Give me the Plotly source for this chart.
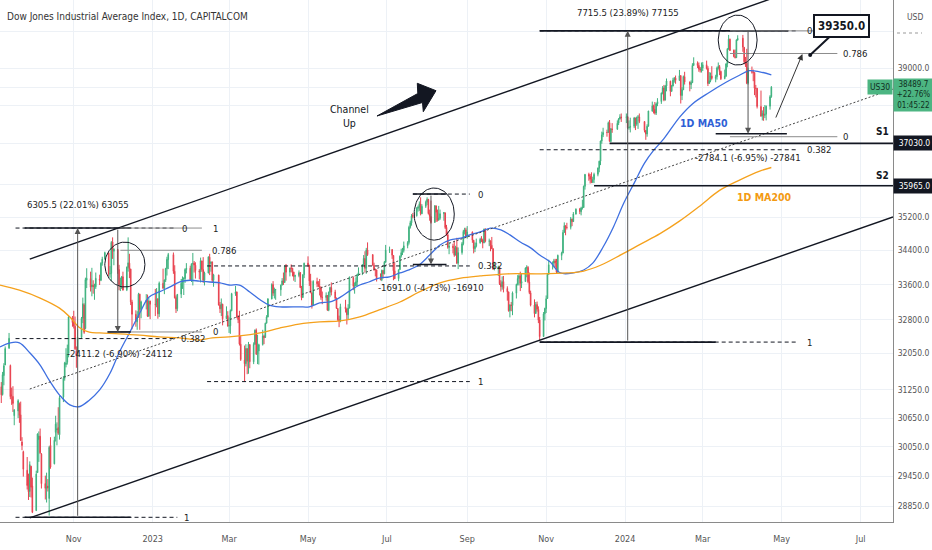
import numpy as np
import pandas as pd
import plotly.graph_objects as go

FONT = "Liberation Sans Narrow, DejaVu Sans Condensed, Arial Narrow, Liberation Sans, sans-serif"

# ---- daily candles, US30 (CAPITALCOM), Sep 2022 -> Apr 2024 ----
holidays = ["2022-09-05", "2022-11-24", "2022-12-26", "2023-01-02", "2023-01-16", "2023-02-20",
            "2023-04-07", "2023-05-29", "2023-06-19", "2023-07-04", "2023-09-04", "2023-11-23",
            "2023-12-25", "2024-01-01", "2024-01-15", "2024-02-19", "2024-03-29"]
trade_days = [d for d in pd.bdate_range("2022-09-01", "2024-04-23") if d.strftime("%Y-%m-%d") not in holidays]

opens = [
    31510, 31700, 31320, 31150, 31560, 31790, 32160, 31780, 31140, 31110, 30700, 30800, 30950, 30720, 30150, 29950, 29570, 29290, 29140, 29650, 29250,
    28760, 29520, 30200, 30270, 29900, 29300, 29200, 29250, 29000, 30080, 29700, 30350, 30400, 30450, 30300, 31100, 31500, 31800, 31850, 32050, 32840,
    32750, 32650, 32100, 32050, 32400, 32830, 33130, 32600, 33700, 33740, 33550, 33580, 33540, 33550, 33730, 33700, 34100, 34200, 34340, 33850, 33860,
    34600, 34380, 34420, 33950, 33590, 33600, 33780, 33480, 34000, 34100, 33960, 33200, 32920, 32750, 32850, 33380, 33030, 33200, 33240, 32880, 33220,
    33150, 33140, 33270, 32930, 33630, 33520, 33700, 33970, 34180, 34300, 33910, 33300, 33050, 33380, 33630, 33730, 33740, 33950, 33980, 33720,
    34090, 34100, 34050, 33920, 33890, 34150, 33950, 33700, 33870, 34240, 34090, 34130, 33700, 33820, 33130, 33050, 33150, 32820, 32890,
    32660, 32660, 33000, 33390, 33430, 32860, 32800, 32250, 31900, 31820, 32150, 31870, 32240, 31860, 32250, 32560, 32030, 32100, 32240, 32430, 32400, 32720, 32860,
    33270, 33600, 33400, 33480, 33480, 33590, 33690, 33650, 34030, 33890, 33990, 33980, 33890, 33790, 33810, 33880, 33530, 33300, 33830,
    34100, 34050, 33690, 33410, 33130, 33670, 33620, 33560, 33530, 33310, 33300, 33350, 33010, 33420, 33530, 33430, 33290, 33050, 32800, 32770, 33090, 33040,
    32910, 33060, 33760, 33560, 33570, 33660, 33830, 33880, 34070, 34210, 33980, 34410, 34300, 34050, 33950, 33940, 33730, 33710, 33930, 33850, 34120,
    34410, 34420, 34280, 33920, 33740, 33950, 34270, 34350, 34400, 34510, 34590, 34950, 35060, 35230, 35230, 35410, 35440, 35520, 35280, 35460,
    35560, 35630, 35280, 35210, 35070, 35470, 35310, 35120, 35170, 35280, 35300, 34950, 34770, 34470, 34500, 34460, 34290, 34470, 34100, 34350, 34560, 34850, 34890,
    34720, 34840, 34640, 34440, 34500, 34580, 34660, 34650, 34580, 34900, 34620, 34620, 34520, 34440, 33960, 33960, 34000, 33620, 33550, 33670,
    33510, 33430, 33000, 33130, 33120, 33400, 33600, 33740, 33800, 33630, 33670, 33980, 34000, 33660, 33410, 33130, 32940, 33140, 33030, 32790, 32420, 32930,
    33050, 33280, 33840, 34060, 34100, 34150, 34110, 33890, 34280, 34340, 34830, 34990, 34950, 34950, 35150, 35090, 35270, 35390, 35330, 35420, 35430,
    35950, 36250, 36200, 36120, 36050, 36120, 36250, 36400, 36580, 37090, 37250, 37310, 37310, 37560, 37080, 37400, 37390, 37550, 37660, 37710,
    37690, 37710, 37430, 37440, 37470, 37680, 37520, 37700, 37710, 37590, 37360, 37270, 37470, 37860, 38000, 37910, 37810, 38050, 38110, 38330, 38470,
    38150, 38520, 38650, 38380, 38520, 38680, 38730, 38670, 38800, 38270, 38420, 38770, 38630, 38560, 38610, 39070, 39130, 39070, 38970, 38950,
    39000, 39090, 38990, 38590, 38660, 38790, 38720, 38770, 39000, 39040, 38910, 38720, 38790, 39110, 39510, 39780, 39480, 39310, 39280, 39760,
    39810, 39560, 39170, 39130, 38600, 38900, 38890, 38880, 38460, 38460, 37980, 37740, 37800, 37750, 37780, 37990, 38240,
]
highs = [
    31680, 31900, 31420, 31640, 31830, 32200, 32500, 31800, 31300, 31330, 30840, 31050, 30980, 31000, 30250, 29970, 29840, 29500, 29750, 29660, 29420,
    29560, 30330, 30370, 30430, 29920, 29460, 29520, 29390, 30070, 30250, 30260, 30700, 30560, 30880, 31120, 31550, 31860, 32160, 32240, 32880, 32880,
    33000, 32870, 32200, 32580, 32860, 33300, 33170, 33760, 33980, 33900, 33990, 33700, 33620, 33880, 33830, 34120, 34250, 34370, 34350, 34030, 34620,
    34710, 34450, 34430, 34060, 33760, 33800, 33900, 34020, 34710, 34320, 33970, 33250, 33010, 32990, 33410, 33390, 33230, 33380, 33370, 33290, 33230,
    33500, 33520, 33290, 33670, 33970, 33720, 33990, 34250, 34340, 34350, 34050, 33350, 33380, 33730, 33790, 33770, 33980, 34100, 34040, 34090,
    34340, 34150, 34120, 33960, 34230, 34160, 34240, 33900, 34260, 34320, 34140, 34130, 33850, 33830, 33200, 33280, 33160, 33100, 32990,
    32850, 33030, 33410, 33570, 33440, 32900, 33000, 32440, 32220, 32250, 32160, 32300, 32250, 32290, 32580, 32600, 32460, 32260, 32570, 32460, 32730, 32900, 33280,
    33630, 33680, 33530, 33500, 33600, 33750, 33880, 34050, 34080, 33990, 34070, 33990, 33900, 33830, 33930, 33890, 33570, 33840, 34110,
    34260, 34060, 33850, 33420, 33700, 33760, 33680, 33730, 33560, 33440, 33420, 33360, 33440, 33550, 33650, 33480, 33300, 33060, 32890, 33160, 33250, 33060,
    33150, 33790, 33790, 33650, 33770, 33850, 34000, 34070, 34290, 34380, 34460, 34590, 34310, 34110, 33960, 33950, 33860, 33950, 33940, 34150, 34530,
    34490, 34430, 34290, 34120, 33950, 34280, 34440, 34460, 34610, 34620, 34990, 35110, 35270, 35300, 35440, 35480, 35580, 35680, 35510, 35600,
    35680, 35640, 35380, 35600, 35490, 35480, 35380, 35470, 35380, 35320, 35310, 35010, 34850, 34600, 34560, 34630, 34510, 34700, 34470, 34600, 34890, 34940, 34940,
    34980, 34850, 34650, 34590, 34680, 34700, 34740, 34680, 34920, 34930, 34680, 34640, 34720, 34450, 34130, 34040, 34010, 33700, 33790, 33800,
    33560, 33440, 33150, 33200, 33440, 33620, 33820, 33840, 33900, 33860, 34000, 34050, 34030, 33880, 33460, 33260, 33200, 33210, 33100, 32860, 32970, 33070,
    33350, 33860, 34180, 34140, 34200, 34200, 34200, 34300, 34370, 34890, 35070, 35000, 35060, 35200, 35160, 35320, 35410, 35420, 35450, 35620, 35970,
    36260, 36290, 36260, 36300, 36190, 36290, 36420, 36590, 37100, 37330, 37430, 37380, 37590, 37630, 37420, 37550, 37620, 37680, 37780, 37800,
    37800, 37730, 37620, 37690, 37710, 37690, 37720, 37760, 37800, 37600, 37370, 37520, 37870, 38110, 38030, 38100, 38080, 38200, 38350, 38520, 38550,
    38550, 38720, 38660, 38550, 38740, 38760, 38800, 38950, 38800, 38490, 38800, 38900, 38640, 38670, 39130, 39290, 39180, 39150, 39030, 39150,
    39160, 39200, 39050, 38890, 38880, 39050, 38820, 39040, 39150, 39080, 38930, 38960, 39130, 39540, 39900, 39800, 39500, 39500, 39780, 39890,
    39900, 39570, 39300, 39520, 39010, 39040, 38960, 38890, 38550, 38470, 38400, 37880, 37970, 38020, 38010, 38280, 38520,
]
lows = [
    31160, 31270, 30970, 31130, 31350, 31790, 32150, 31050, 30930, 30780, 30500, 30650, 30550, 30170, 29980, 29440, 29180, 28970, 29030, 29020, 28710,
    28750, 29520, 29740, 29900, 29200, 28980, 28920, 29140, 28660, 29600, 29690, 30160, 30080, 30300, 30200, 30990, 31450, 31740, 31800, 31960, 32640,
    32600, 32120, 31730, 31980, 32380, 32720, 32480, 32580, 33520, 33440, 33330, 33390, 33250, 33500, 33590, 33680, 34040, 34180, 33800, 33760, 33680,
    34200, 34050, 33850, 33470, 33450, 33500, 33460, 33450, 33900, 33750, 33130, 32580, 32640, 32570, 32840, 32570, 32830, 33030, 32860, 32860, 32810,
    32880, 33080, 32820, 32860, 33500, 33380, 33660, 33810, 33960, 33850, 33280, 32950, 32990, 33290, 33500, 33360, 33640, 33860, 33700, 33660,
    33580, 33880, 33740, 33720, 33650, 33900, 33640, 33580, 33860, 33820, 33900, 33650, 33550, 33120, 32950, 32880, 32670, 32810, 32640,
    32500, 32480, 32990, 33340, 32830, 32720, 32220, 31880, 31430, 31760, 31590, 31600, 31720, 31810, 32230, 32010, 31810, 31800, 32220, 32250, 32390, 32710, 32850,
    33260, 33340, 33280, 33250, 33340, 33580, 33590, 33640, 33690, 33790, 33880, 33790, 33690, 33660, 33770, 33520, 33240, 33300, 33750,
    34010, 33570, 33400, 33050, 33130, 33540, 33540, 33350, 33250, 33150, 33230, 33000, 32990, 33310, 33350, 33250, 33040, 32770, 32630, 32740, 32960, 32690,
    32800, 33060, 33470, 33390, 33570, 33560, 33800, 33820, 34050, 33880, 33850, 34270, 34040, 33920, 33790, 33670, 33700, 33680, 33740, 33840, 34110,
    34340, 34200, 33700, 33730, 33680, 33940, 34230, 34290, 34350, 34450, 34540, 34920, 34990, 35170, 35210, 35330, 35350, 35240, 35270, 35420,
    35490, 35260, 35110, 35040, 35060, 35080, 35090, 35120, 35130, 35110, 34910, 34750, 34440, 34310, 34330, 34250, 34280, 34080, 33960, 34300, 34520, 34780, 34700,
    34680, 34580, 34330, 34360, 34470, 34560, 34600, 34450, 34570, 34590, 34500, 34380, 34430, 33940, 33930, 33800, 33590, 33440, 33480, 33420,
    33230, 32980, 32850, 32990, 32900, 33280, 33580, 33580, 33450, 33520, 33660, 33770, 33630, 33380, 33100, 32850, 32930, 32980, 32720, 32330, 32410, 32780,
    32950, 33270, 33830, 33950, 34000, 34000, 33850, 33870, 34170, 34330, 34820, 34760, 34900, 34900, 34980, 35080, 35260, 35270, 35240, 35380, 35420,
    35870, 36090, 36020, 36030, 36030, 36030, 36200, 36300, 36480, 37020, 37190, 37200, 37300, 37070, 37060, 37300, 37380, 37500, 37640, 37580,
    37550, 37400, 37380, 37310, 37420, 37370, 37480, 37400, 37550, 37310, 37120, 37200, 37460, 37850, 37800, 37770, 37760, 37990, 38050, 38300, 38120,
    38140, 38380, 38250, 38370, 38510, 38610, 38580, 38660, 38060, 38150, 38420, 38560, 38380, 38440, 38600, 39060, 39000, 38900, 38880, 38880,
    38920, 38960, 38520, 38580, 38620, 38690, 38620, 38690, 38960, 38810, 38680, 38700, 38760, 39020, 39500, 39460, 39290, 39260, 39270, 39740,
    39440, 39100, 39030, 38570, 38560, 38850, 38650, 38280, 38220, 37930, 37710, 37620, 37610, 37680, 37620, 37900, 38210,
]
closes = [
    31656, 31318, 31145, 31581, 31775, 32152, 32381, 31105, 31135, 30961, 30822, 31020, 30706, 30184, 30077, 29590, 29260, 29135, 29684, 29226, 28726,
    29490, 30317, 30274, 29927, 29297, 29203, 29240, 29211, 30039, 29635, 30186, 30524, 30424, 30334, 31083, 31500, 31837, 31839, 32034, 32862, 32733,
    32653, 32148, 32001, 32403, 32827, 33160, 32514, 33716, 33748, 33537, 33593, 33554, 33546, 33746, 33700, 34098, 34194, 34347, 33850, 33853, 34590,
    34395, 34430, 33947, 33597, 33598, 33781, 33476, 34005, 34108, 33966, 33203, 32920, 32757, 32850, 33377, 33027, 33204, 33241, 32876, 33221, 33147,
    33136, 33270, 32930, 33631, 33518, 33704, 33974, 34190, 34303, 33910, 33297, 33045, 33375, 33630, 33734, 33744, 33950, 33978, 33717, 34086,
    34093, 34054, 33926, 33891, 34156, 33949, 33700, 33869, 34246, 34089, 34128, 33697, 33827, 33130, 33045, 33154, 32817, 32889, 32657,
    32662, 33004, 33391, 33431, 32856, 32798, 32255, 31910, 31820, 32155, 31875, 32247, 31862, 32245, 32561, 32031, 32106, 32238, 32433, 32395, 32718, 32860, 33274,
    33601, 33403, 33483, 33485, 33587, 33685, 33647, 34030, 33887, 33988, 33977, 33897, 33787, 33809, 33876, 33531, 33302, 33827, 34098,
    34051, 33685, 33415, 33128, 33675, 33619, 33562, 33531, 33310, 33301, 33349, 33013, 33421, 33535, 33427, 33287, 33056, 32800, 32765, 33093, 33043, 32908,
    33062, 33763, 33563, 33573, 33665, 33834, 33877, 34067, 34212, 33979, 34408, 34299, 34054, 33952, 33947, 33727, 33715, 33927, 33853, 34122, 34408,
    34418, 34288, 33922, 33735, 33945, 34262, 34347, 34395, 34509, 34585, 34952, 35061, 35225, 35228, 35411, 35438, 35520, 35282, 35459, 35560,
    35630, 35283, 35216, 35066, 35474, 35315, 35123, 35176, 35281, 35308, 34946, 34766, 34475, 34501, 34464, 34288, 34473, 34100, 34347, 34560, 34852, 34890, 34722,
    34838, 34642, 34443, 34501, 34577, 34664, 34646, 34576, 34907, 34619, 34624, 34518, 34441, 33964, 33964, 34007, 33619, 33551, 33667, 33508,
    33433, 33002, 33130, 33120, 33408, 33605, 33740, 33805, 33631, 33670, 33985, 33998, 33665, 33415, 33127, 32936, 33141, 33036, 32785, 32418, 32929, 33053,
    33275, 33839, 34061, 34096, 34153, 34112, 33892, 34283, 34338, 34828, 34991, 34945, 34947, 35151, 35088, 35273, 35390, 35334, 35417, 35430, 35951,
    36246, 36204, 36125, 36054, 36118, 36248, 36405, 36578, 37090, 37248, 37306, 37307, 37558, 37083, 37405, 37386, 37545, 37657, 37711, 37690,
    37715, 37431, 37440, 37466, 37683, 37525, 37696, 37711, 37593, 37361, 37267, 37469, 37864, 38001, 37906, 37806, 38050, 38109, 38333, 38467, 38150,
    38519, 38654, 38380, 38521, 38677, 38726, 38671, 38797, 38273, 38424, 38773, 38628, 38564, 38612, 39069, 39131, 39069, 38972, 38949, 38996,
    39087, 38990, 38585, 38661, 38791, 38723, 38770, 39005, 39043, 38906, 38715, 38790, 39111, 39512, 39781, 39476, 39314, 39282, 39760, 39807,
    39567, 39170, 39127, 38597, 38904, 38892, 38884, 38462, 38459, 37983, 37735, 37799, 37753, 37775, 37986, 38240, 38490,
]
assert len(opens) == len(highs) == len(lows) == len(closes) == len(trade_days)

# ---- moving averages ----
ma50_dates = ["2022-09-05", "2022-09-13", "2022-09-20", "2022-09-28", "2022-10-06", "2022-10-13", "2022-10-21", "2022-10-29",
              "2022-11-05", "2022-11-13", "2022-11-21", "2022-11-29", "2022-12-06", "2022-12-14", "2022-12-22", "2022-12-29",
              "2023-01-06", "2023-01-14", "2023-01-22", "2023-01-30", "2023-02-06", "2023-02-14", "2023-02-22",
              "2023-03-01", "2023-03-09", "2023-03-17", "2023-03-25", "2023-04-01", "2023-04-09", "2023-04-24",
              "2023-05-02", "2023-05-10", "2023-05-18", "2023-05-26", "2023-06-02", "2023-06-10", "2023-06-17", "2023-06-25",
              "2023-07-03", "2023-07-11", "2023-07-18", "2023-07-26", "2023-08-03", "2023-08-11", "2023-08-19", "2023-08-27",
              "2023-09-03", "2023-09-11", "2023-09-19", "2023-09-27", "2023-10-04", "2023-10-12", "2023-10-20", "2023-10-27",
              "2023-11-04", "2023-11-12", "2023-11-22", "2023-11-30", "2023-12-07", "2023-12-15", "2023-12-23", "2023-12-31",
              "2024-01-08", "2024-01-16", "2024-01-23", "2024-01-31", "2024-02-12", "2024-02-22",
              "2024-03-06", "2024-03-19", "2024-03-29", "2024-04-06", "2024-04-14", "2024-04-23"]
ma50_vals = [32190, 32280, 32280, 32060, 31790, 31460, 31140, 30930,
             30890, 31030, 31250, 31610, 32060, 32500, 32950, 33310,
             33430, 33540, 33660, 33700, 33680, 33660, 33640,
             33590, 33590, 33430, 33250, 33130, 33090, 33090,
             33090, 33180, 33200, 33310, 33450, 33590, 33660, 33750,
             33780, 33870, 33940, 34060, 34290, 34530, 34650, 34690,
             34770, 34840, 34930, 34890, 34770, 34600, 34460, 34290,
             34130, 33870, 33870, 33940, 34100, 34480, 34960, 35540,
             36030, 36530, 36850, 37150, 37700, 38050,
             38350, 38620, 38800, 38930, 38900, 38820]
ma200_dates = ["2022-09-05", "2022-09-20", "2022-10-06", "2022-10-21", "2022-10-29", "2022-11-05", "2022-11-13", "2022-11-21",
               "2022-12-06", "2022-12-22", "2023-01-06", "2023-01-22", "2023-02-06", "2023-02-16", "2023-03-01", "2023-03-25",
               "2023-04-09", "2023-04-24", "2023-05-10", "2023-05-26", "2023-06-10", "2023-06-25", "2023-07-11", "2023-07-26",
               "2023-08-11", "2023-08-27", "2023-09-11", "2023-10-02", "2023-10-27", "2023-11-17", "2023-11-30", "2023-12-13",
               "2023-12-29", "2024-01-13", "2024-01-28", "2024-02-12", "2024-02-27", "2024-03-14", "2024-03-29", "2024-04-14",
               "2024-04-23"]
ma200_vals = [33590, 33470, 33290, 33060, 32860, 32630, 32520, 32500,
              32480, 32450, 32410, 32390, 32340, 32390, 32410, 32500,
              32610, 32700, 32750, 32770, 32860, 33020, 33200, 33430,
              33640, 33750, 33800, 33850, 33850, 33870, 33915, 34050,
              34300, 34550, 34800, 35100, 35450, 35850, 36100, 36330,
              36420]

# ---- axis ticks ----
x_tick_dates = ["2022-11-01", "2023-01-01", "2023-03-01", "2023-05-01", "2023-07-01", "2023-09-01",
                "2023-11-01", "2024-01-01", "2024-03-01", "2024-05-01", "2024-07-01"]
x_tick_text = ["Nov", "2023", "Mar", "May", "Jul", "Sep", "Nov", "2024", "Mar", "May", "Jul"]
y_tick_vals = [39000, 35200, 34400, 33600, 32800, 32050, 31250, 30650, 30050, 29450, 28850]
y_hidden_grid = [40000, 38490, 38020, 37025, 36000]

# ---- drawing anchors (price levels) ----
channel_upper = [("2022-09-28", 34195), ("2024-05-07", 41088)]
channel_lower = [("2022-09-28", 28614), ("2024-07-26", 35200)]
channel_mid = [("2022-09-28", 31270), ("2024-07-26", 38440)]
fib_left = [34933, 32374, 28627]       # 0, 0.382, 1
fib_left2 = [34933, 34403, 32522]      # 1, 0.786, 0
fib_mid = [35760, 34034, 31430]        # 0, 0.382, 1
fib_right = [40012, 36868, 32296]      # 0, 0.382, 1
fib_right2 = [40012, 39393, 37200]     # 1, 0.786, 0
s1_level = 37030
s2_level = 35965
target_level = 39350
last_price = 38489.7

fig = go.Figure()

fig.add_trace(go.Candlestick(
    x=trade_days, open=opens, high=highs, low=lows, close=closes,
    increasing=dict(line=dict(color="#3fb27f", width=1), fillcolor="#3fb27f"),
    decreasing=dict(line=dict(color="#e8424f", width=1), fillcolor="#e8424f"),
    whiskerwidth=0, hoverinfo="skip", showlegend=False))

fig.add_trace(go.Scatter(x=ma50_dates, y=ma50_vals, mode="lines", line=dict(color="#3e6fe0", width=1.3, shape="spline"),
                         hoverinfo="skip", showlegend=False))
fig.add_trace(go.Scatter(x=ma200_dates, y=ma200_vals, mode="lines", line=dict(color="#f5a11c", width=1.3, shape="spline"),
                         hoverinfo="skip", showlegend=False))


def seg(x0, p0, x1, p1, color="#131722", width=1.0, dash="solid"):
    fig.add_trace(go.Scatter(x=[x0, x1], y=[p0, p1], mode="lines",
                             line=dict(color=color, width=width, dash=dash),
                             hoverinfo="skip", showlegend=False))


def label(x, p, text, color="#222", size=9.5, xanchor="left"):
    fig.add_annotation(x=x, y=np.log10(p), text=text, showarrow=False, xanchor=xanchor, yanchor="middle",
                       font=dict(family=FONT, size=size, color=color))


def arrow(x_from, p_from, x_to, p_to, color="#555", width=1):
    fig.add_annotation(x=x_to, y=np.log10(p_to), ax=x_from, ay=np.log10(p_from),
                       xref="x", yref="y", axref="x", ayref="y", text="", showarrow=True,
                       arrowhead=2, arrowsize=1.2, arrowwidth=width, arrowcolor=color)


def ellipse(d0, d1, p0, p1):
    t0, t1 = pd.Timestamp(d0), pd.Timestamp(d1)
    cx, a = t0 + (t1 - t0) / 2, (t1 - t0) / 2
    cy, b = (np.log10(p0) + np.log10(p1)) / 2, (np.log10(p1) - np.log10(p0)) / 2
    th = np.linspace(0, 2 * np.pi, 90)
    xs = [cx + a * np.cos(v) for v in th]
    ys = 10 ** (cy + b * np.sin(th))
    fig.add_trace(go.Scatter(x=xs, y=ys, mode="lines", line=dict(color="#131722", width=1),
                             hoverinfo="skip", showlegend=False))


DASH = "4px,3px"

# channel
seg(*channel_upper[0], *channel_upper[1], width=1.4)
seg(*channel_lower[0], *channel_lower[1], width=1.4)
seg(*channel_mid[0], *channel_mid[1], color="#444", width=1, dash="2px,2px")

# ---- left group ----
seg("2022-09-17", fib_left[0], "2023-01-18", fib_left[0], dash=DASH)
seg("2022-09-17", fib_left[1], "2023-01-18", fib_left[1], dash=DASH)
seg("2022-09-17", fib_left[2], "2023-01-20", fib_left[2], dash=DASH)
label("2023-01-22", fib_left[0], "0")
label("2023-01-21", fib_left[1], "0.382")
label("2023-01-24", fib_left[2], "1")
seg("2022-09-24", fib_left[0], "2022-12-15", fib_left[0], width=1.6)
seg("2022-09-24", fib_left[2], "2022-12-15", fib_left[2], width=1.6)
arrow("2022-11-04", fib_left[2], "2022-11-04", fib_left[0])
label("2022-11-04", 35514, "6305.5 (22.01%) 63055", xanchor="center")
for lv in fib_left2:
    seg("2022-12-07", lv, "2023-02-08", lv, color="#8c8c8c")
label("2023-02-15", fib_left2[0], "1")
label("2023-02-14", fib_left2[1], "0.786")
label("2023-02-15", fib_left2[2], "0")
seg("2022-11-27", fib_left2[2], "2022-12-15", fib_left2[2], width=1.6)
arrow("2022-12-05", fib_left2[0], "2022-12-05", fib_left2[2])
label("2022-12-07", 32054, "-2411.2 (-6.90%) -24112", xanchor="center")
ellipse("2022-11-25", "2022-12-26", 33544, 34597)

# ---- middle group ----
seg("2023-07-21", fib_mid[0], "2023-09-03", fib_mid[0], dash=DASH)
seg("2023-02-12", fib_mid[1], "2023-09-03", fib_mid[1], dash=DASH)
seg("2023-02-12", fib_mid[2], "2023-09-03", fib_mid[2], dash=DASH)
label("2023-09-08", fib_mid[0], "0")
label("2023-09-08", fib_mid[1], "0.382")
label("2023-09-08", fib_mid[2], "1")
seg("2023-07-21", fib_mid[0], "2023-08-16", fib_mid[0], width=1.6)
seg("2023-07-21", 34069, "2023-08-16", 34069, width=1.6)
arrow("2023-08-04", fib_mid[0], "2023-08-04", 34069)
label("2023-08-04", 33544, "-1691.0 (-4.73%) -16910", xanchor="center")
ellipse("2023-07-22", "2023-08-22", 34645, 35909)

# ---- right group ----
for lv in fib_right:
    seg("2023-10-27", lv, "2024-05-13", lv, dash=DASH)
label("2024-05-19", fib_right[0], "0")
label("2024-05-19", fib_right[1], "0.382")
label("2024-05-19", fib_right[2], "1")
seg("2023-10-27", fib_right[0], "2024-05-06", fib_right[0], width=1.6)
seg("2023-10-27", fib_right[2], "2024-03-11", fib_right[2], width=1.6)
arrow("2024-01-03", fib_right[2], "2024-01-03", fib_right[0])
label("2024-01-03", 40532, "7715.5 (23.89%) 77155", xanchor="center")
for lv in fib_right2:
    seg("2024-03-22", lv, "2024-06-13", lv, color="#8c8c8c")
label("2024-06-16", fib_right2[1], "0.786")
label("2024-06-16", fib_right2[2], "0")
seg("2024-03-11", 37275, "2024-05-05", 37275, width=1.6)
arrow("2024-04-05", 40059, "2024-04-05", 37275)
label("2024-04-05", 36683, "-2784.1 (-6.95%) -27841", xanchor="center")
ellipse("2024-03-13", "2024-04-12", 39081, 40449)

# supports
seg("2023-12-20", s1_level, "2024-07-26", s1_level, width=1.6)
seg("2023-12-08", s2_level, "2024-07-26", s2_level, width=1.6)
label("2024-07-18", 37345, "<b>S1</b>", color="#131722", size=10, xanchor="center")
label("2024-07-18", 36232, "<b>S2</b>", color="#131722", size=10, xanchor="center")

# projection + target callout
arrow("2024-04-26", 37655, "2024-05-17", 39378, color="#333")
fig.add_trace(go.Scatter(x=["2024-05-23"], y=[target_level], mode="markers",
                         marker=dict(color="#131722", size=4), hoverinfo="skip", showlegend=False))
fig.add_annotation(x="2024-05-23", y=np.log10(target_level), ax=31, ay=-29, text="<b>39350.0</b>",
                   showarrow=True, arrowhead=0, arrowwidth=2, arrowcolor="#131722",
                   bordercolor="#131722", borderwidth=2, borderpad=3, bgcolor="white",
                   font=dict(family=FONT, size=11.5, color="#131722"))

# text labels
label("2024-03-02", 37551, "<b>1D MA50</b>", color="#2f5fd6", size=10.5, xanchor="center")
label("2024-04-18", 35687, "<b>1D MA200</b>", color="#f39a12", size=10.5, xanchor="center")
label("2023-06-02", 37733, "Channel<br>Up", color="#131722", size=10.5, xanchor="center")


# big "Channel Up" arrow (pixel geometry of the plot area 893x522)
def pp(px, py):
    return px / 893.0, 1 - py / 522.0


pts = [pp(377, 116), pp(417.8, 93.5), pp(417.3, 83.3), pp(436, 90.7), pp(423.3, 111.7), pp(422.5, 102.5)]
path = "M " + " L ".join(f"{a:.5f},{b:.5f}" for a, b in pts) + " Z"
fig.add_shape(type="path", path=path, xref="paper", yref="paper", fillcolor="#131722", line=dict(color="#131722", width=1))

# title
fig.add_annotation(x=5 / 893, y=1 - 16 / 522, xref="paper", yref="paper", xanchor="left", yanchor="middle",
                   text="Dow Jones Industrial Average Index, 1D, CAPITALCOM", showarrow=False,
                   font=dict(family=FONT, size=10, color="#333"))

# right scale labels
fig.add_annotation(x=1.013, y=1 - 17 / 522, xref="paper", yref="paper", xanchor="left", yanchor="middle",
                   text="USD", showarrow=False, font=dict(family=FONT, size=8.5, color="#555"))
fig.add_shape(type="line", x0=897 / 893, x1=922 / 893, y0=1 - 33 / 522, y1=1 - 33 / 522, xref="paper", yref="paper",
              line=dict(color="#999", width=1, dash="dot"))
fig.add_annotation(x=1, y=np.log10(last_price), xref="paper", yref="y", xanchor="right", yanchor="middle",
                   text="US30", showarrow=False, bgcolor="#4cb582", borderpad=2,
                   font=dict(family=FONT, size=8.5, color="#10301f"))
fig.add_annotation(x=1, y=np.log10(38733), xref="paper", yref="y", xanchor="left", yanchor="top",
                   text=f"{last_price:.1f}<br>+22.76%<br>01:45:22", showarrow=False, bgcolor="#4cb582",
                   width=37, borderpad=1, font=dict(family=FONT, size=8, color="#10301f"))
for lv in (s1_level, s2_level):
    fig.add_annotation(x=1, y=np.log10(lv), xref="paper", yref="y", xanchor="left", yanchor="middle",
                       text=f"{lv:.1f}", showarrow=False, bgcolor="#131722", width=37, borderpad=2,
                       font=dict(family=FONT, size=8.5, color="white"))

y_vals = y_tick_vals + y_hidden_grid
y_text = [f"{v:.1f}" for v in y_tick_vals] + [""] * len(y_hidden_grid)

fig.update_layout(
    width=932, height=550, autosize=False,
    margin=dict(l=0, r=39, t=0, b=28, pad=0),
    plot_bgcolor="white", paper_bgcolor="white",
    font=dict(family=FONT, size=9.5, color="#444"),
    xaxis=dict(type="date", range=["2022-09-05", "2024-07-26"], rangeslider=dict(visible=False),
               tickmode="array", tickvals=x_tick_dates, ticktext=x_tick_text,
               showgrid=True, gridcolor="#edf1f6", gridwidth=1, showline=True, linecolor="#8a8a8a",
               ticks="", ticklabelstandoff=8, tickfont=dict(family=FONT, size=9, color="#555"), zeroline=False),
    yaxis=dict(type="log", side="right", range=[4.45537, 4.61141],
               tickmode="array", tickvals=y_vals, ticktext=y_text,
               showgrid=True, gridcolor="#edf1f6", gridwidth=1, showline=True, linecolor="#8a8a8a",
               ticks="", ticklabelstandoff=2, tickfont=dict(family=FONT, size=8.5, color="#555"), zeroline=False),
    showlegend=False,
)

fig.write_html("out.html", config={"displayModeBar": False},
               post_script="document.body.style.margin='0';document.body.style.overflow='hidden';")
